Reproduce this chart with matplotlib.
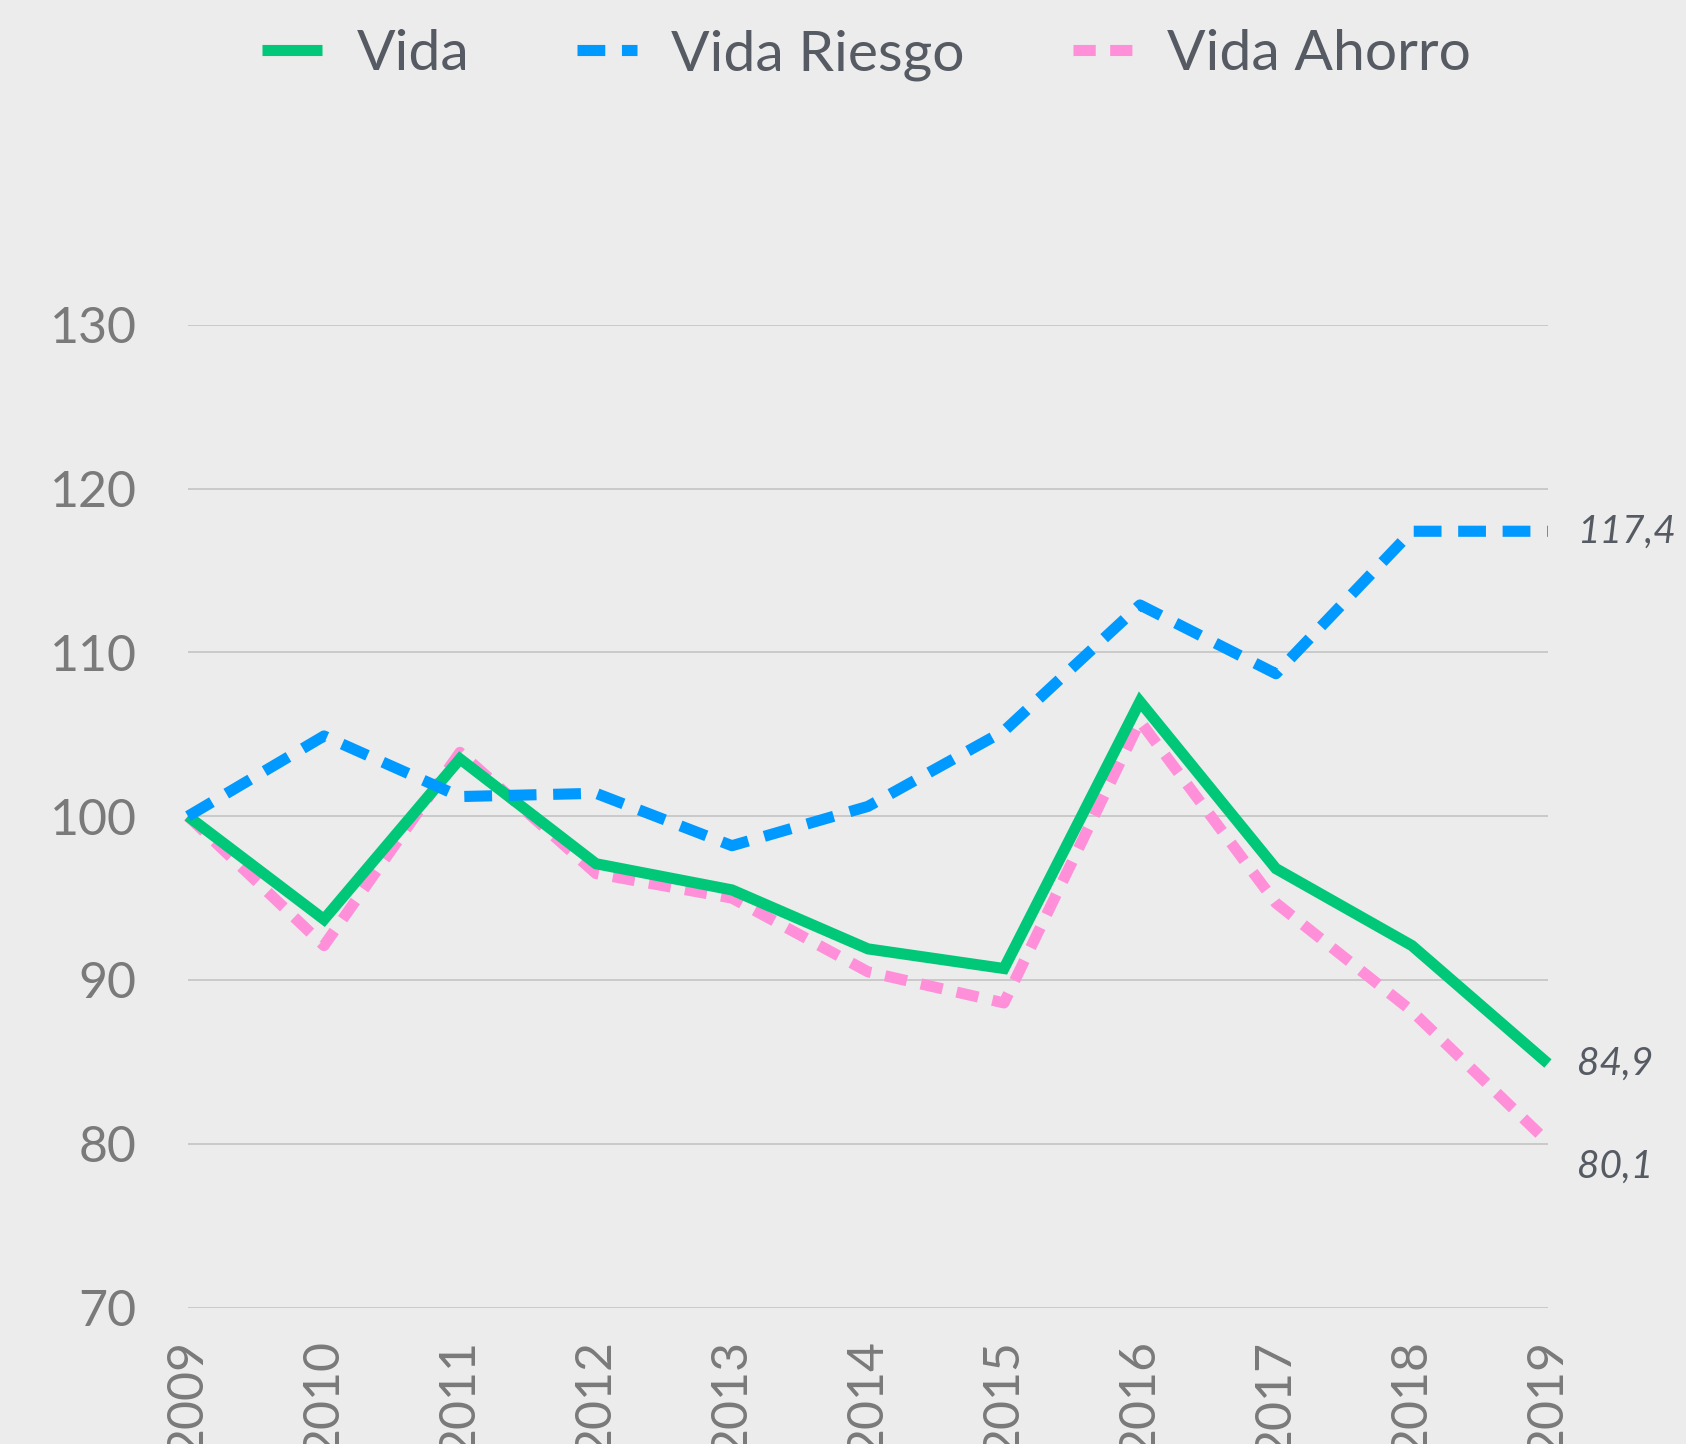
import matplotlib
matplotlib.use("Agg")
import matplotlib.pyplot as plt

plt.rcParams["font.family"] = ["Lato", "DejaVu Sans"]

# Data (index, 2009 = 100)
years = [2009, 2010, 2011, 2012, 2013, 2014, 2015, 2016, 2017, 2018, 2019]
vida = [100.0, 93.7, 103.5, 97.1, 95.5, 91.9, 90.7, 107.0, 96.8, 92.1, 84.9]
vida_riesgo = [100.0, 104.9, 101.2, 101.4, 98.2, 100.6, 105.2, 112.9, 108.7, 117.4, 117.4]
vida_ahorro = [100.0, 92.1, 103.9, 96.5, 95.0, 90.5, 88.6, 105.8, 94.7, 88.1, 80.1]
end_labels = ["84,9", "117,4", "80,1"]
y_ticks = [70, 80, 90, 100, 110, 120, 130]

BG = "#ececec"
GREEN = "#00c878"
BLUE = "#0099ff"
PINK = "#ff8fd8"
TICK_COL = "#7a7a7a"
TEXT_COL = "#555a63"

fig = plt.figure(figsize=(16.86, 14.44), dpi=100, facecolor=BG)
ax = fig.add_axes([0.1115, 0.0945, 0.8066, 0.6805], facecolor=BG)

lw = 8
ax.plot(years, vida_ahorro, color=PINK, lw=lw, dashes=(2.0, 1.3),
        dash_capstyle="butt", label="Vida Ahorro", zorder=3, clip_on=False)
ax.plot(years, vida, color=GREEN, lw=lw, solid_joinstyle="miter",
        solid_capstyle="butt", label="Vida", zorder=4, clip_on=False)
ax.plot(years, vida_riesgo, color=BLUE, lw=lw, dashes=(2.5, 1.5),
        dash_capstyle="butt", label="Vida Riesgo", zorder=5, clip_on=False)

ax.set_xlim(years[0], years[-1])
ax.set_ylim(y_ticks[0], y_ticks[-1])
ax.set_yticks(y_ticks)
ax.set_xticks(years)
ax.set_xticklabels([str(y) for y in years], rotation=90, va="top")
ax.grid(axis="y", color="#c4c4c4", lw=1.2, zorder=0)
ax.grid(axis="x", visible=False)
for s in ax.spines.values():
    s.set_visible(False)
ax.tick_params(axis="y", length=0, pad=37, labelsize=36, labelcolor=TICK_COL)
ax.tick_params(axis="x", length=0, pad=23, labelsize=36, labelcolor=TICK_COL)

# end-of-line value labels
ends = [(vida[-1], end_labels[0]), (vida_riesgo[-1], end_labels[1]),
        (vida_ahorro[-1] - 1.5, end_labels[2])]
for yv, txt in ends:
    ax.annotate(txt, xy=(years[-1], yv), xytext=(21, 0), textcoords="offset points",
                ha="left", va="center", fontsize=28, style="italic",
                color=TEXT_COL, annotation_clip=False)

handles, labels = ax.get_legend_handles_labels()
order = [1, 2, 0]
leg = fig.legend([handles[i] for i in order], [labels[i] for i in order],
                 loc="center", bbox_to_anchor=(0.514, 0.962), ncol=3,
                 frameon=False, fontsize=41, handlelength=1.05,
                 handletextpad=0.6, columnspacing=1.9)
for t in leg.get_texts():
    t.set_color(TEXT_COL)

fig.savefig("out.png", dpi=100, facecolor=BG)
